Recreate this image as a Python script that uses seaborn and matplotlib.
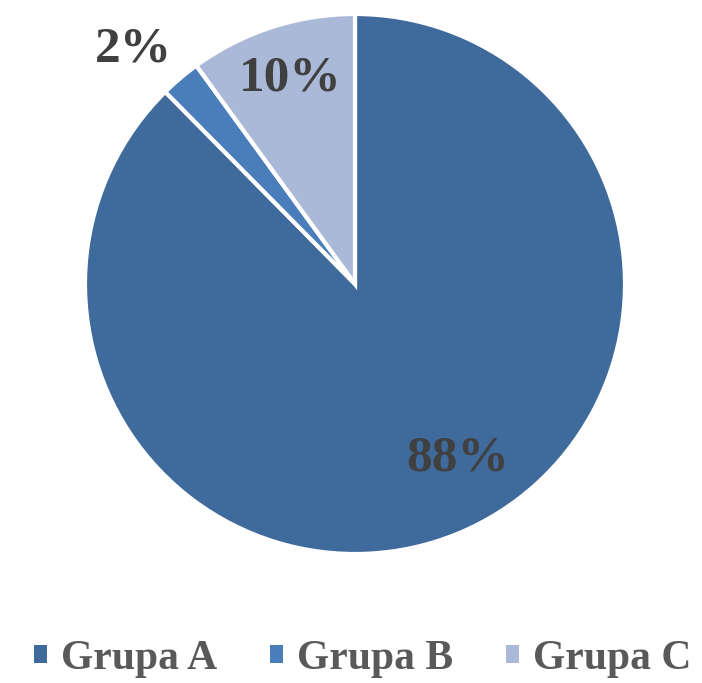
import matplotlib
matplotlib.use("Agg")
import matplotlib.pyplot as plt
import seaborn as sns

sns.set_theme(style="white")
plt.rcParams["font.family"] = ["Liberation Serif", "DejaVu Serif"]

groups = ["Grupa A", "Grupa B", "Grupa C"]
shares = [87.6, 2.4, 10.0]
colors = ["#3F6A9C", "#4A7EBB", "#A9B9D7"]
# label anchor points (data units, pie radius = 1)
label_pos = [(0.38, -0.645), (-0.82, 0.87), (-0.24, 0.76)]

fig = plt.figure(figsize=(7.02, 6.83), dpi=100, facecolor="white")
ax = fig.add_axes([85 / 702, 129 / 683, 540 / 702, 540 / 683])

wedges, texts, autotexts = ax.pie(
    shares,
    colors=colors,
    startangle=90,
    counterclock=False,
    autopct="%.0f%%",
    wedgeprops=dict(edgecolor="white", linewidth=3),
    textprops=dict(fontsize=37, fontweight="bold", color="#404040"),
)
for t, pos in zip(autotexts, label_pos):
    t.set_position(pos)
    t.set_ha("center")
    t.set_va("center")

ax.set_xlim(-1, 1)
ax.set_ylim(-1, 1)
ax.set_aspect("equal")
ax.axis("off")

leg = fig.legend(
    wedges,
    groups,
    loc="center",
    bbox_to_anchor=(363 / 702, 1 - 659 / 683),
    ncol=3,
    frameon=False,
    handlelength=0.3,
    handleheight=0.3,
    handletextpad=0.35,
    columnspacing=1.27,
    prop=dict(size=30, weight="bold"),
)
for t in leg.get_texts():
    t.set_color("#595959")
for h in leg.legend_handles:
    h.set_edgecolor("none")

fig.savefig("out.png", dpi=100, facecolor="white")
